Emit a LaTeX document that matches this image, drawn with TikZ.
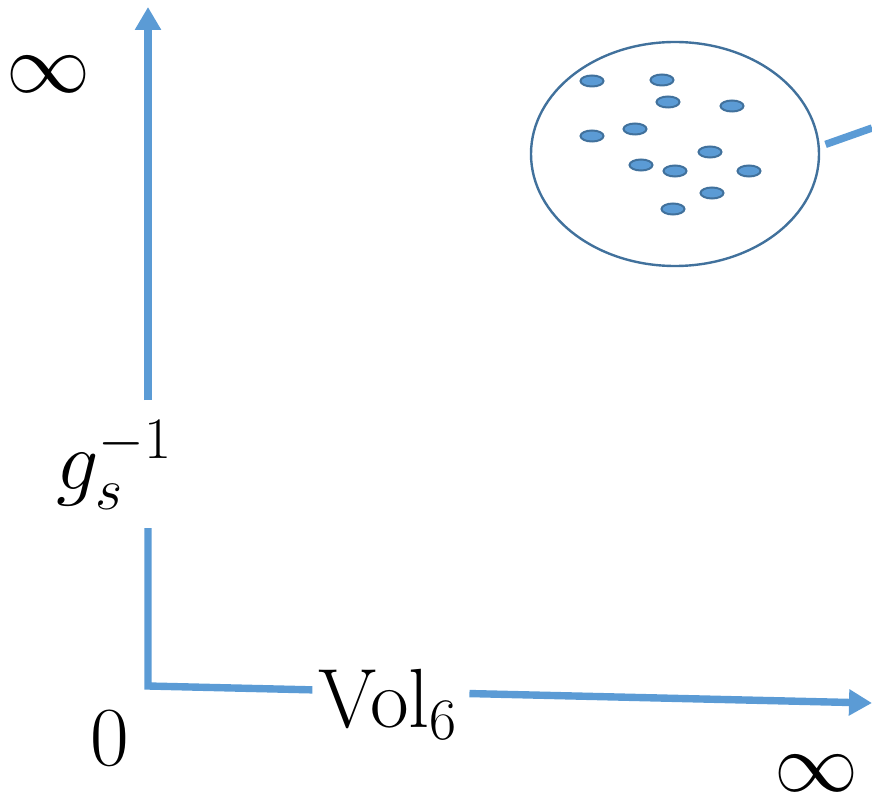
\RequirePackage{fix-cm}
\documentclass[tikz,border=0pt]{standalone}
\usetikzlibrary{arrows.meta, calc, shapes.geometric}

\definecolor{axisblue}{HTML}{5B9BD5}
\definecolor{edgeblue}{HTML}{41719C}

\tikzset{
  axis/.style={axisblue, line width=3.7pt},
  tip/.style={-{Triangle[length=11.5pt, width=12.5pt]}},
  bigmath/.style={font=\fontsize{42}{48}\selectfont, inner sep=0pt},
  blob/.style={ellipse, draw=edgeblue, line width=1.2pt, minimum width=144pt, minimum height=112pt},
  grain/.style={fill=axisblue, draw=edgeblue, line width=1pt}
}

\begin{document}
\begin{tikzpicture}[x=0.5pt, y=-0.5pt]
  \useasboundingbox (0,0) rectangle (872,796);
  \coordinate (origin) at (148,686);
  \coordinate (ytip) at (148,7);
  \coordinate (xtip) at (872,703);
  \coordinate (ylow) at (148,528);
  \coordinate (yhigh) at (148,400);
  \coordinate (xleft) at ($(origin)!0.227!(xtip)$);
  \coordinate (xright) at ($(origin)!0.444!(xtip)$);
  \coordinate (zoomend) at (872,128);
  % axes, broken where the labels sit
  \draw[axis] (ylow) -- (origin) -- (xleft);
  \draw[axis, tip] (yhigh) -- (ytip);
  \draw[axis, tip] (xright) -- (xtip);
  % labels
  \node[bigmath] (inftop) at (48,74) {$\infty$};
  \node[bigmath, anchor=base west] (ginv) at (56,489) {$g_s^{-1}$};
  \node[bigmath, anchor=base] (zero) at (110,765) {$0$};
  \node[bigmath, anchor=base west] (vol) at (318,727) {$\mathrm{Vol}_6$};
  \node[bigmath] (infright) at (816,773) {$\infty$};
  % zoomed-in region
  \node[blob] (moduli) at (675,154) {};
  \foreach \px/\py in {592/81, 662/80, 668/102, 732/106, 592/136, 635/129,
                       710/152, 641/165, 675/171, 749/171, 712/193, 673/209}
    \filldraw[grain] (\px,\py) ellipse (11.5 and 5.5);
  \draw[axis, shorten <=3pt] (moduli.3) -- (zoomend);
\end{tikzpicture}
\end{document}
